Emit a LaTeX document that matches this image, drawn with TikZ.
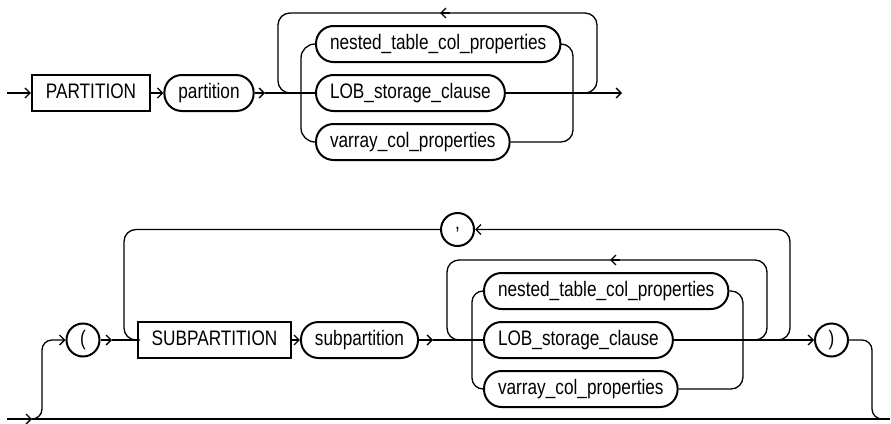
\documentclass[tikz,border=0pt]{standalone}
\usepackage{fontspec}
\setmainfont{Liberation Sans}[FakeStretch=0.82]
\usetikzlibrary{arrows.meta}
\begin{document}
\begin{tikzpicture}[x=1pt,y=-1pt,
  conn/.style={line width=1.3pt},
  tip/.style={-{Straight Barb[length=5pt,width=10pt]}},
  kw/.style={draw,line width=2pt,rectangle,minimum height=36pt,inner xsep=14pt,inner ysep=0pt,
    text height=15.5pt,text depth=4.5pt,font=\fontsize{21}{24}\selectfont},
  nt/.style={kw,rounded corners=17.5pt},
  sym/.style={draw,circle,line width=2pt,minimum size=33pt,inner sep=0pt,font=\fontsize{21}{24}\selectfont}]
\useasboundingbox (0,0) rectangle (891,423);
% ---------- top diagram ----------
\node[kw] (P) at (91,93) {PARTITION};
\node[nt] (p) at (209,93) {partition};
\node[nt,anchor=west] (n1) at (315,44) {nested\_table\_col\_properties};
\node[nt,anchor=west] (l1) at (315,93) {LOB\_storage\_clause};
\node[nt,anchor=west] (v1) at (315,142) {varray\_col\_properties};
\coordinate (s1) at (7,93);
\coordinate (a1) at (265,93);
\coordinate (e1) at (622,93);
\draw[conn,tip] (s1) -- (P.west);
\draw[conn,tip] (P.east) -- (p.west);
\draw[conn,tip] (p.east) -- (a1);
\draw[conn] (a1) -- (l1.west);
\draw[conn,tip] (l1.east) -- (e1);
\draw[conn,rounded corners=12pt] (560,93) -| (597,13) -| (278,93) -- (300,93);
\draw[conn,tip] (450,13) -- (440,13);
\draw[conn,rounded corners=14pt] (n1.west) -| (301,142) -- (v1.west);
\draw[conn,rounded corners=12pt] (n1.east) -| (573,142) -- (v1.east);
% ---------- bottom diagram ----------
\node[sym] (lp) at (83,340) {(};
\node[kw] (S) at (214.5,340) {SUBPARTITION};
\node[nt] (s) at (359.5,340) {subpartition};
\node[nt,anchor=west] (n2) at (483,291) {nested\_table\_col\_properties};
\node[nt,anchor=west] (l2) at (483,340) {LOB\_storage\_clause};
\node[nt,anchor=west] (v2) at (483,389) {varray\_col\_properties};
\node[sym] (cm) at (457.5,229.5) {,};
\node[sym] (rp) at (831.5,340) {)};
\coordinate (s2) at (7,419);
\coordinate (b2) at (32,419);
\coordinate (e2) at (890,419);
\coordinate (a2) at (112,340);
\coordinate (a3) at (433,340);
\draw[conn,tip] (s2) -- (b2);
\draw[conn] (b2) -- (e2);
\draw[conn,rounded corners=10pt,tip] (30,419) -| (42,340) -- (lp.west);
\draw[conn,tip] (lp.east) -- (a2);
\draw[conn] (a2) -- (S.west);
\draw[conn,tip] (S.east) -- (s.west);
\draw[conn,tip] (s.east) -- (a3);
\draw[conn] (a3) -- (l2.west);
\draw[conn,tip] (l2.east) -- (rp.west);
\draw[conn,rounded corners=12pt] (730,340) -| (767,260) -| (447,340) -- (470,340);
\draw[conn,tip] (620,260) -- (610,260);
\draw[conn,rounded corners=11pt] (n2.west) -| (472,389) -- (v2.west);
\draw[conn,rounded corners=12pt] (n2.east) -| (743,389) -- (v2.east);
\draw[conn,rounded corners=12pt,tip] (760,340) -| (790,229.5) -- (cm.east);
\draw[conn,rounded corners=12pt] (cm.west) -| (124,340) -- (140,340);
\draw[conn,rounded corners=10pt] (rp.east) -| (872,419) -- (e2);
\end{tikzpicture}
\end{document}
